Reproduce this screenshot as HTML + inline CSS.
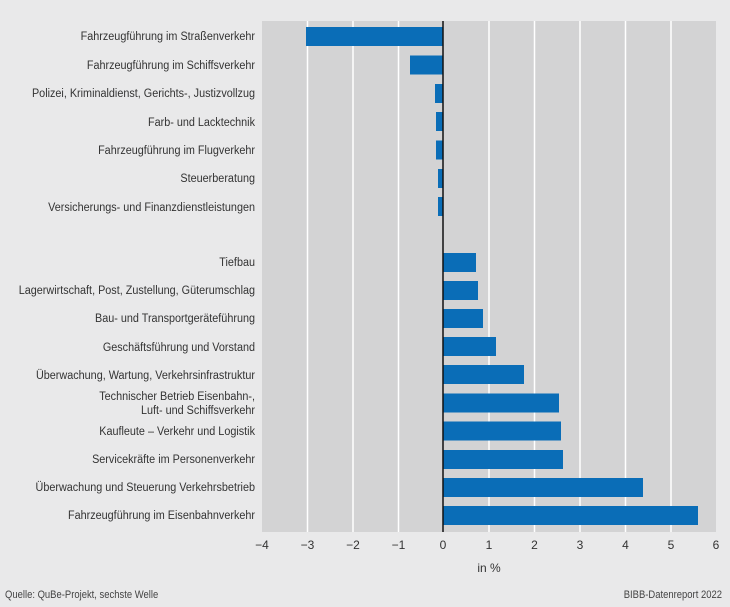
<!DOCTYPE html>
<html><head><meta charset="utf-8"><style>
html,body{margin:0;padding:0;background:#e9e9ea;}
svg{display:block;font-family:"Liberation Sans Narrow","Liberation Sans",sans-serif;}
</style></head><body>
<svg width="730" height="607" viewBox="0 0 730 607" xmlns="http://www.w3.org/2000/svg">
<rect x="0" y="0" width="730" height="607" fill="#e9e9ea"/>
<rect x="262" y="21" width="454" height="511" fill="#d3d3d4"/>
<g stroke="#ffffff" stroke-width="1.5">
<line x1="307.5" y1="21" x2="307.5" y2="532"/>
<line x1="353" y1="21" x2="353" y2="532"/>
<line x1="398.5" y1="21" x2="398.5" y2="532"/>
<line x1="489" y1="21" x2="489" y2="532"/>
<line x1="534.5" y1="21" x2="534.5" y2="532"/>
<line x1="580" y1="21" x2="580" y2="532"/>
<line x1="625.5" y1="21" x2="625.5" y2="532"/>
<line x1="671" y1="21" x2="671" y2="532"/>
</g>
<g fill="#0a6db7">
<rect x="306" y="27" width="137" height="19"/>
<rect x="410" y="55.5" width="33" height="19"/>
<rect x="435" y="84" width="8" height="19"/>
<rect x="436" y="112" width="7" height="19"/>
<rect x="436" y="140.5" width="7" height="19"/>
<rect x="438" y="169" width="5" height="19"/>
<rect x="438" y="197" width="5" height="19"/>
<rect x="443" y="253" width="33" height="19"/>
<rect x="443" y="281" width="35" height="19"/>
<rect x="443" y="309" width="40" height="19"/>
<rect x="443" y="337" width="53" height="19"/>
<rect x="443" y="365" width="81" height="19"/>
<rect x="443" y="393.5" width="116" height="19"/>
<rect x="443" y="421.5" width="118" height="19"/>
<rect x="443" y="450" width="120" height="19"/>
<rect x="443" y="478" width="200" height="19"/>
<rect x="443" y="506" width="255" height="19"/>
</g>
<line x1="443" y1="21" x2="443" y2="532" stroke="#111" stroke-width="1.5"/>
<g font-size="12.3" fill="#333" text-anchor="end" transform="translate(255,0) scale(0.88,1)">
<text x="0" y="40">Fahrzeugführung im Straßenverkehr</text>
<text x="0" y="69">Fahrzeugführung im Schiffsverkehr</text>
<text x="0" y="97">Polizei, Kriminaldienst, Gerichts-, Justizvollzug</text>
<text x="0" y="126">Farb- und Lacktechnik</text>
<text x="0" y="154">Fahrzeugführung im Flugverkehr</text>
<text x="0" y="182">Steuerberatung</text>
<text x="0" y="211">Versicherungs- und Finanzdienstleistungen</text>
<text x="0" y="266">Tiefbau</text>
<text x="0" y="294">Lagerwirtschaft, Post, Zustellung, Güterumschlag</text>
<text x="0" y="322">Bau- und Transportgeräteführung</text>
<text x="0" y="351">Geschäftsführung und Vorstand</text>
<text x="0" y="379">Überwachung, Wartung, Verkehrsinfrastruktur</text>
<text x="0" y="400">Technischer Betrieb Eisenbahn-,</text>
<text x="0" y="414">Luft- und Schiffsverkehr</text>
<text x="0" y="435">Kaufleute – Verkehr und Logistik</text>
<text x="0" y="463">Servicekräfte im Personenverkehr</text>
<text x="0" y="491">Überwachung und Steuerung Verkehrsbetrieb</text>
<text x="0" y="519">Fahrzeugführung im Eisenbahnverkehr</text>
</g>
<g font-size="12" fill="#333" text-anchor="middle">
<text x="262" y="549">−4</text>
<text x="307.5" y="549">−3</text>
<text x="353" y="549">−2</text>
<text x="398.5" y="549">−1</text>
<text x="443" y="549">0</text>
<text x="489" y="549">1</text>
<text x="534.5" y="549">2</text>
<text x="580" y="549">3</text>
<text x="625.5" y="549">4</text>
<text x="671" y="549">5</text>
<text x="716" y="549">6</text>
<text x="489" y="572">in %</text>
</g>
<g font-size="11" fill="#444">
<text transform="translate(5,598) scale(0.86,1)">Quelle: QuBe-Projekt, sechste Welle</text>
<text transform="translate(722,598) scale(0.86,1)" text-anchor="end">BIBB-Datenreport 2022</text>
</g>
</svg>
</body></html>
